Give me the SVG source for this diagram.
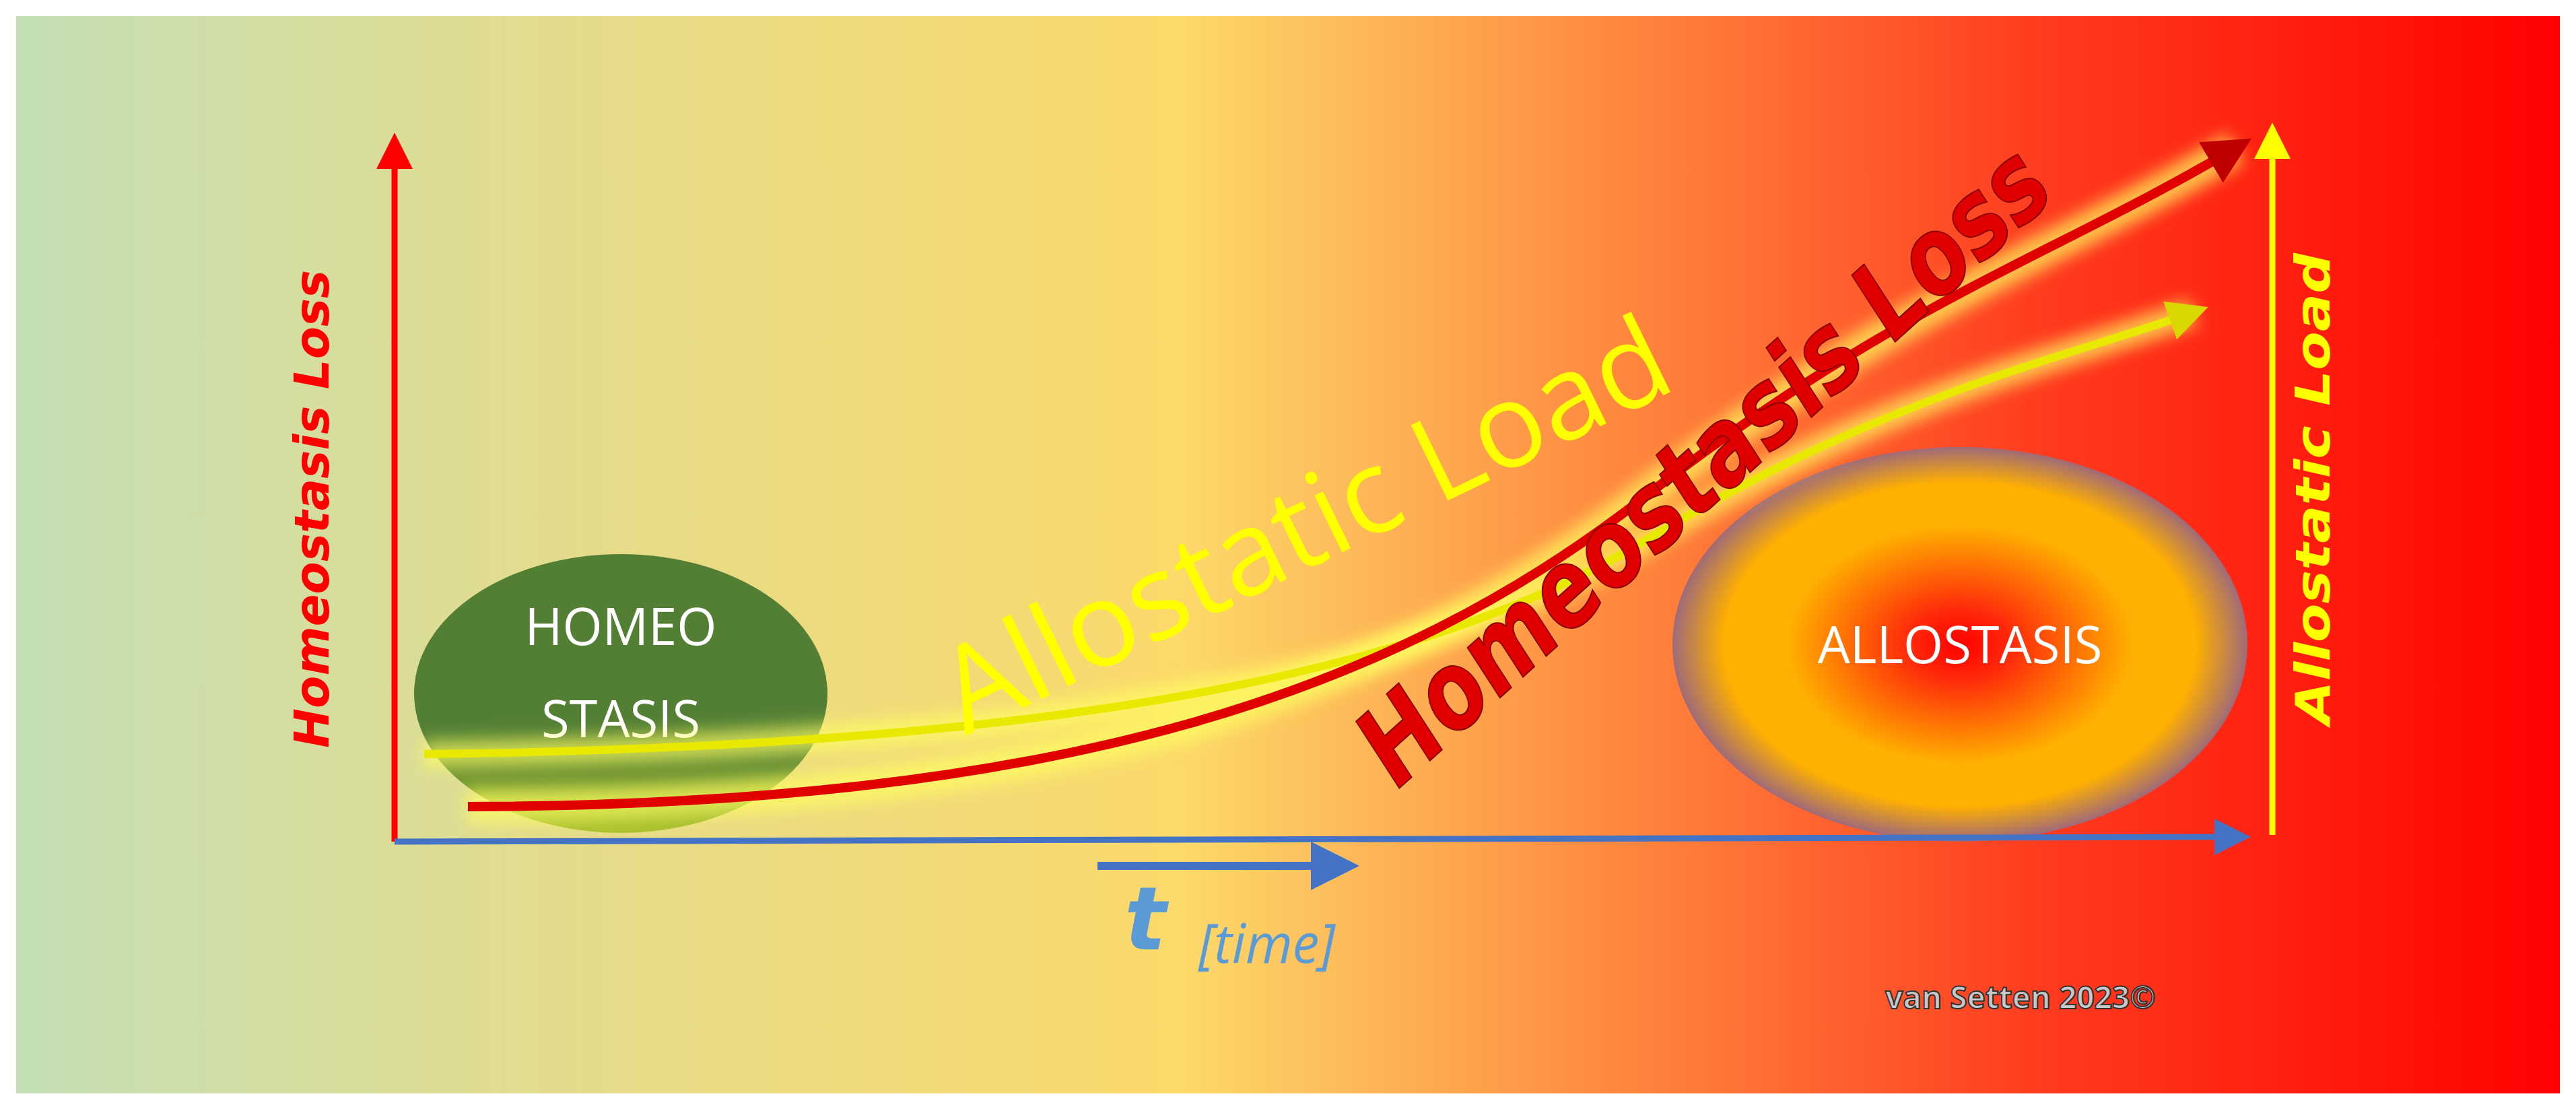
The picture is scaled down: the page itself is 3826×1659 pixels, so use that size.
<svg xmlns="http://www.w3.org/2000/svg" width="3826" height="1659" viewBox="0 0 3826 1659">
<style>
.w{font-family:"Open Sans","Liberation Sans",sans-serif;fill:#fff;font-size:76px;text-anchor:middle}
.bi{font-family:"DejaVu Sans",sans-serif;font-weight:bold;font-style:oblique}
</style>
<defs>
<linearGradient id="bg" x1="0" x2="1" y1="0" y2="0">
<stop offset="0" stop-color="#c4dfb6"/><stop offset="0.2" stop-color="#e2dc8e"/><stop offset="0.46" stop-color="#fcd96a"/><stop offset="0.62" stop-color="#ff8c40"/><stop offset="0.8" stop-color="#ff3a1e"/><stop offset="1" stop-color="#ff0000"/>
</linearGradient>
<radialGradient id="allo"><stop offset="0" stop-color="#ff0000"/><stop offset="0.18" stop-color="#ff2a0a"/><stop offset="0.6" stop-color="#ffb000"/><stop offset="0.82" stop-color="#ffb000"/><stop offset="1" stop-color="#a06a78"/></radialGradient>
<linearGradient id="homeo" x1="0" x2="0" y1="0" y2="1"><stop offset="0.7" stop-color="#537f35"/><stop offset="1" stop-color="#a9c02a"/></linearGradient>
<filter id="glow" x="-20%" y="-20%" width="140%" height="140%"><feGaussianBlur stdDeviation="12"/></filter>
<marker id="mr" markerWidth="6" markerHeight="6" refX="4" refY="3" orient="auto"><path d="M0,0L6,3L0,6z" fill="#ff0000"/></marker>
<marker id="my" markerWidth="6" markerHeight="6" refX="4" refY="3" orient="auto"><path d="M0,0L6,3L0,6z" fill="#ffff00"/></marker>
<marker id="mb" markerWidth="6" markerHeight="6" refX="4" refY="3" orient="auto"><path d="M0,0L6,3L0,6z" fill="#4472c4"/></marker>
<marker id="mcr" markerWidth="5" markerHeight="5" refX="3" refY="2.5" orient="auto"><path d="M0,0L5,2.5L0,5z" fill="#c00000"/></marker>
<marker id="mcy" markerWidth="5" markerHeight="5" refX="3" refY="2.5" orient="auto"><path d="M0,0L5,2.5L0,5z" fill="#d8d800"/></marker>
</defs>
<rect width="3826" height="1659" fill="#fff"/>
<rect x="24" y="24" width="3778" height="1600" fill="url(#bg)"/>
<g id="homeostasis"><ellipse cx="922" cy="1030" rx="307" ry="207" fill="url(#homeo)"/>
<text class="w" x="922" y="958">HOMEO</text><text class="w" x="922" y="1095">STASIS</text></g>
<g id="allostasis"><ellipse cx="2911" cy="957" rx="427" ry="293" fill="url(#allo)"/>
<text class="w" x="2911" y="985">ALLOSTASIS</text></g>
<g id="connectors">
<line x1="586" y1="1250" x2="586" y2="215" stroke="#ff0000" stroke-width="9" marker-end="url(#mr)"/>
<line x1="586" y1="1250" x2="3325" y2="1243" stroke="#4472c4" stroke-width="9" marker-end="url(#mb)"/>
<line x1="3375" y1="1240" x2="3375" y2="200" stroke="#ffff00" stroke-width="9" marker-end="url(#my)"/>
<line x1="1630" y1="1286" x2="1995" y2="1286" stroke="#4472c4" stroke-width="12" marker-end="url(#mb)"/>
<path d="M630,1120 C1464,1110 2074,1025 2440,805 S3050,537 3257,464" fill="none" stroke="#ffff60" stroke-width="40" filter="url(#glow)" opacity="0.7"/>
<path d="M695,1198 C1586,1196 2074,1025 2440,740 S3050,380 3320,220" fill="none" stroke="#ffff60" stroke-width="50" filter="url(#glow)" opacity="0.7"/>
<path d="M630,1120 C1464,1110 2074,1025 2440,805 S3050,537 3257,464" fill="none" stroke="#e8e800" stroke-width="12" marker-end="url(#mcy)"/>
<path d="M695,1198 C1586,1196 2074,1025 2440,740 S3050,380 3320,220" fill="none" stroke="#e00000" stroke-width="14" marker-end="url(#mcr)"/>
</g>
<text x="1940" y="840" transform="rotate(-26 1940 785)" font-family="Open Sans, Liberation Sans, sans-serif" font-size="175" fill="#ffff00" text-anchor="middle" textLength="1180" lengthAdjust="spacingAndGlyphs">Allostatic Load</text>
<text class="bi" x="2530" y="745" transform="rotate(-42 2530 690)" font-size="160" fill="#e00000" text-anchor="middle" stroke="#800000" stroke-width="2" textLength="1320" lengthAdjust="spacingAndGlyphs">Homeostasis Loss</text>
<text class="bi" x="512" y="780" transform="rotate(-90 488 780)" font-size="72" fill="#ff0000" text-anchor="middle" textLength="710" lengthAdjust="spacingAndGlyphs">Homeostasis Loss</text>
<text class="bi" x="3484" y="750" transform="rotate(-90 3460 750)" font-size="72" fill="#ffff00" text-anchor="middle" font-weight="normal" textLength="700" lengthAdjust="spacingAndGlyphs">Allostatic Load</text>
<text class="bi" x="1670" y="1410" font-size="130" fill="#5b9bd5">t</text>
<text x="1780" y="1430" font-family="Open Sans, Liberation Sans, sans-serif" font-style="italic" font-size="80" fill="#5b9bd5">[time]</text>
<text x="2800" y="1498" font-family="Open Sans, Liberation Sans, sans-serif" font-weight="bold" font-size="46" fill="#c8c8c8" stroke="#333" stroke-width="2">van Setten 2023©</text>
</svg>
